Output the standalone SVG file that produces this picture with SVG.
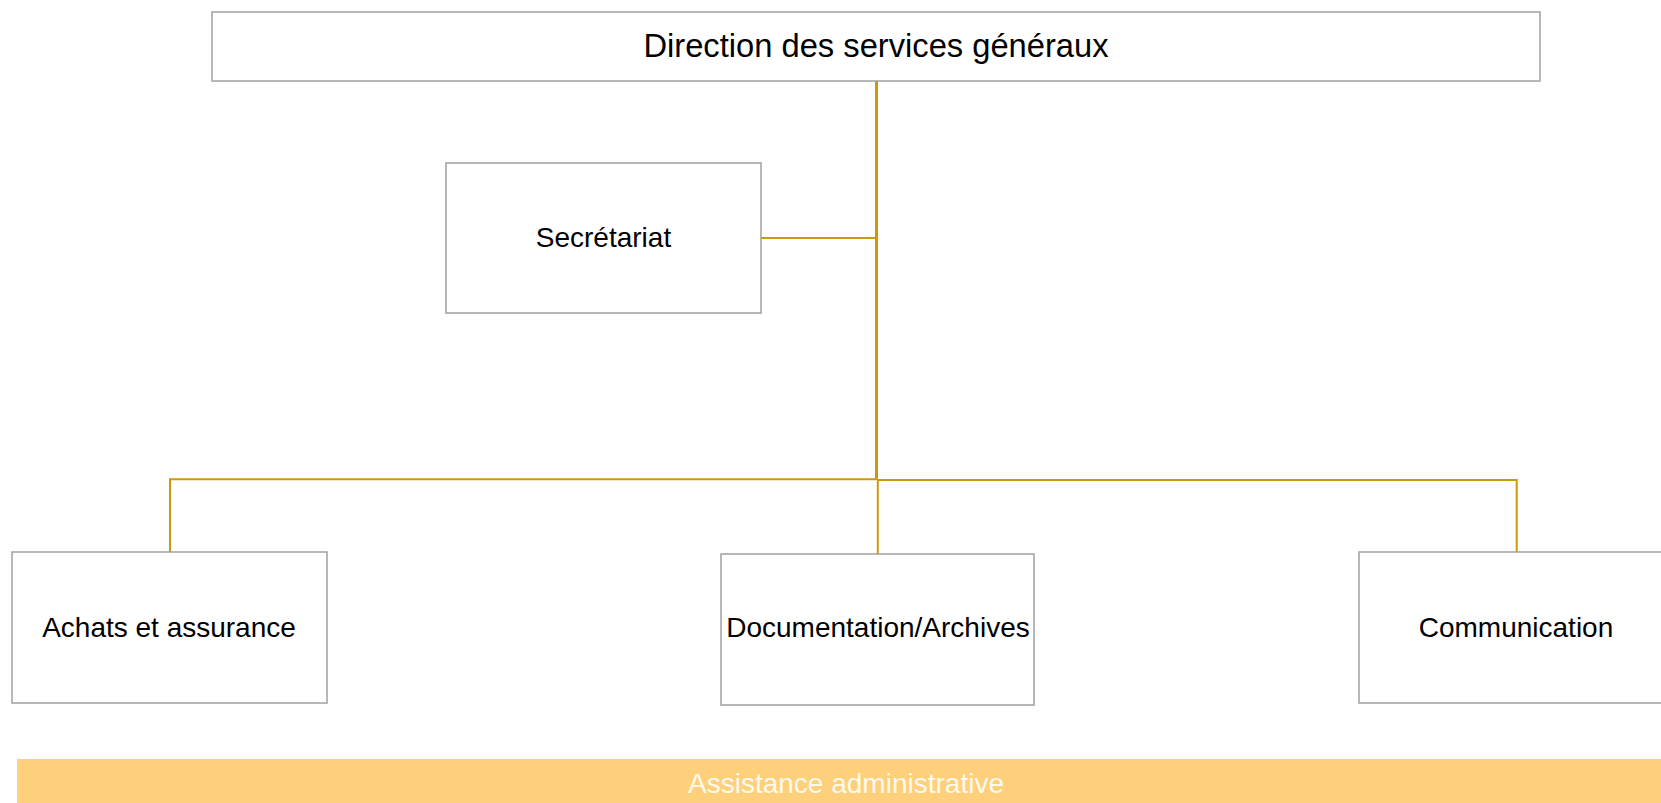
<svg xmlns="http://www.w3.org/2000/svg" width="1661" height="803" viewBox="0 0 1661 803">
<style>
.box{fill:#ffffff;stroke:#a0a0a0;stroke-width:1.5}
.lbl{font-family:"Liberation Sans",Arial,sans-serif;font-size:28px;fill:#000000;text-anchor:middle}
.title{font-size:32.7px}
.conn{fill:none;stroke:#CC9A06;stroke-width:2}
.main{stroke-width:3}
.band{fill:#FED07C}
.bandtxt{font-family:"Liberation Sans",Arial,sans-serif;font-size:28px;fill:#FFF9EC;text-anchor:middle}
</style>
<rect width="1661" height="803" fill="#ffffff"/>
<g id="connectors">
<path class="conn main" d="M876.5 81 V480"/>
<path class="conn" d="M761 238 H876"/>
<path class="conn" d="M876 479.3 H170 V552"/>
<path class="conn" d="M877.5 480 H1516.7 V552"/>
<path class="conn" d="M877.8 479 V554"/>
</g>
<g id="node-direction">
<rect class="box" x="212" y="12" width="1328" height="69"/>
<text class="lbl title" x="876" y="57">Direction des services généraux</text>
</g>
<g id="node-secretariat">
<rect class="box" x="446" y="163" width="315" height="150"/>
<text class="lbl" x="603.5" y="247">Secrétariat</text>
</g>
<g id="node-achats">
<rect class="box" x="12" y="552" width="315" height="151"/>
<text class="lbl" x="169" y="637">Achats et assurance</text>
</g>
<g id="node-documentation">
<rect class="box" x="721" y="554" width="313" height="151"/>
<text class="lbl" x="878" y="637">Documentation/Archives</text>
</g>
<g id="node-communication">
<rect class="box" x="1359" y="552" width="320" height="151"/>
<text class="lbl" x="1516" y="637">Communication</text>
</g>
<g id="node-assistance">
<rect class="band" x="17" y="759" width="1650" height="50"/>
<text class="bandtxt" x="846" y="793">Assistance administrative</text>
</g>
</svg>
